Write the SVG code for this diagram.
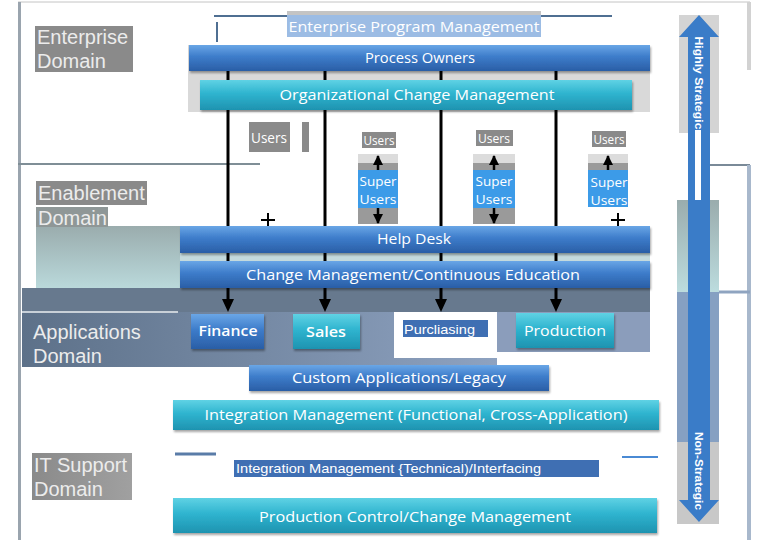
<svg xmlns="http://www.w3.org/2000/svg" width="768" height="544" viewBox="0 0 768 544">
<defs>
<linearGradient id="gBlue" x1="0" y1="0" x2="0" y2="1">
<stop offset="0" stop-color="#6aa6e6"/><stop offset="0.45" stop-color="#3d7cca"/><stop offset="1" stop-color="#2a5ea6"/>
</linearGradient>
<linearGradient id="gCyan" x1="0" y1="0" x2="0" y2="1">
<stop offset="0" stop-color="#5fd2e4"/><stop offset="0.45" stop-color="#2fb4cf"/><stop offset="1" stop-color="#1e93b0"/>
</linearGradient>
<linearGradient id="gTeal" x1="0" y1="0" x2="0" y2="1">
<stop offset="0" stop-color="#9aacad"/><stop offset="1" stop-color="#bcdcde"/>
</linearGradient>
<linearGradient id="gSlate" x1="0" y1="0" x2="1" y2="0">
<stop offset="0" stop-color="#5d7189"/><stop offset="1" stop-color="#8ea2c0"/>
</linearGradient>
<linearGradient id="gGray" x1="0" y1="0" x2="1" y2="0">
<stop offset="0" stop-color="#8a8a8a"/><stop offset="1" stop-color="#a0a0a0"/>
</linearGradient>
<marker id="ah" viewBox="0 0 10 10" refX="9" refY="5" markerWidth="4" markerHeight="4" orient="auto">
<path d="M0,0 L10,5 L0,10 z" fill="#000"/>
</marker>
<filter id="sh" x="-5%" y="-20%" width="110%" height="150%">
<feDropShadow dx="1" dy="2" stdDeviation="1" flood-color="#000" flood-opacity="0.35"/>
</filter>
</defs>
<style>
.bar{font-family:"Open Sans","Noto Sans",sans-serif;fill:#fff;text-anchor:middle}
.dom{font-family:"Liberation Sans",Arial,sans-serif;font-size:20px;fill:#ececec}
.ar{font-family:"Liberation Sans",Arial,sans-serif;fill:#fff}
.lbl{fill:#8a8a8a}
.vl{stroke:#000;stroke-width:3;fill:none}
.sb{fill:#3c9be8}
</style>
<rect width="768" height="544" fill="#fff"/>

<!-- frame -->
<g id="frame">
<line x1="18" y1="2" x2="750" y2="2" stroke="#c4c4c4" stroke-width="1"/>
<rect x="18" y="2" width="3" height="538" fill="#9aa4ae"/>
<rect x="747" y="2" width="4" height="68" fill="#d2d2d2"/>
<line x1="18" y1="164" x2="260" y2="164" stroke="#7f8e96" stroke-width="2"/>
<line x1="701" y1="165" x2="750" y2="165" stroke="#7a8a98" stroke-width="2"/>
<rect x="747" y="165" width="4" height="375" fill="#a8b8cc"/>
<line x1="719" y1="292" x2="750" y2="292" stroke="#8fa4c0" stroke-width="3"/>
</g>

<!-- domain backgrounds -->
<g id="backgrounds">
<rect x="188" y="45" width="462" height="67" fill="#d9d9d9"/>
<rect x="36" y="226" width="150" height="66" fill="url(#gTeal)"/>
<rect x="180" y="252" width="470" height="10" fill="#c4dadd"/>
<rect x="22" y="288" width="628" height="24" fill="#67798e"/>
<rect x="22" y="312" width="475" height="55" fill="url(#gSlate)"/>
<rect x="497" y="312" width="153" height="40" fill="#8b9dbb"/>
<rect x="394" y="312" width="103" height="46" fill="#fff"/>
<line x1="22" y1="312" x2="178" y2="312" stroke="#c8d0d8" stroke-width="2"/>
</g>

<!-- domain labels -->
<g id="enterprise-domain">
<rect x="35" y="26" width="98" height="46" class="lbl" fill="#9a9a9a"/>
<text x="37" y="44" class="dom">Enterprise</text>
<text x="37" y="68" class="dom">Domain</text>
</g>
<g id="enablement-domain">
<rect x="36" y="181" width="111" height="24" fill="#8a8a8a"/>
<rect x="36" y="207" width="72" height="20" fill="#8f9797"/>
<text x="38" y="200" class="dom">Enablement</text>
<text x="38" y="225" class="dom">Domain</text>
</g>
<g id="applications-domain">
<text x="33" y="339" class="dom">Applications</text>
<text x="33" y="363" class="dom">Domain</text>
</g>
<g id="it-support-domain">
<rect x="32" y="453" width="100" height="47" fill="url(#gGray)"/>
<text x="34" y="472" class="dom">IT Support</text>
<text x="34" y="496" class="dom">Domain</text>
</g>

<!-- connectors -->
<g id="connectors">
<line x1="214" y1="16" x2="612" y2="16" stroke="#4f6f92" stroke-width="2"/>
<line x1="217" y1="22" x2="217" y2="42" stroke="#4f6f92" stroke-width="2"/>
<line x1="175" y1="454" x2="216" y2="454" stroke="#5a7ca8" stroke-width="3"/>
<line x1="622" y1="457" x2="658" y2="457" stroke="#4a8ad4" stroke-width="2"/>
<line x1="228" y1="71" x2="228" y2="306" class="vl"/>
<line x1="325" y1="71" x2="325" y2="306" class="vl"/>
<line x1="441" y1="71" x2="441" y2="306" class="vl"/>
<line x1="556" y1="71" x2="556" y2="306" class="vl"/>
<path d="M222,299 L234,299 L228,312 z M319,299 L331,299 L325,312 z M435,299 L447,299 L441,312 z M550,299 L562,299 L556,312 z" fill="#000"/>
<path d="M261,220 H275 M268,213 V227 M611,220 H625 M618,213 V227" stroke="#000" stroke-width="2"/>
</g>

<g id="enterprise-program-management">
<rect x="287" y="11" width="254" height="5" fill="#c4c4c4"/>
<rect x="287" y="15" width="254" height="22" fill="#9cbce4"/>
<text x="414" y="32" class="bar" font-size="15" textLength="251" lengthAdjust="spacingAndGlyphs">Enterprise Program Management</text>
</g>
<g id="process-owners">
<rect x="189" y="45" width="461" height="26" fill="url(#gBlue)" filter="url(#sh)"/>
<text x="420" y="63" class="bar" font-size="14" textLength="110" lengthAdjust="spacingAndGlyphs">Process Owners</text>
</g>
<g id="organizational-change-management">
<rect x="200" y="80" width="432" height="30" fill="url(#gCyan)" filter="url(#sh)"/>
<text x="417" y="100" class="bar" font-size="15" textLength="275" lengthAdjust="spacingAndGlyphs">Organizational Change Management</text>
</g>

<g id="users-1">
<rect x="249" y="122" width="41" height="30" fill="#8a8a8a"/>
<rect x="302" y="122" width="7" height="30" fill="#8a8a8a"/>
<text x="269" y="143" class="bar" font-size="14" textLength="36" lengthAdjust="spacingAndGlyphs">Users</text>
</g>

<g id="super-users-1">
<rect x="362" y="132" width="34" height="16" fill="#8a8a8a"/>
<text x="379" y="145" class="bar" font-size="12" textLength="31" lengthAdjust="spacingAndGlyphs">Users</text>
<rect x="358" y="154" width="40" height="70" fill="#dcdcdc"/>
<rect x="358" y="163" width="40" height="61" fill="#9a9a9a"/>
<rect x="358" y="170" width="40" height="38" class="sb"/>
<text x="378" y="186" class="bar" font-size="13" textLength="37" lengthAdjust="spacingAndGlyphs">Super</text>
<text x="378" y="204" class="bar" font-size="13" textLength="37" lengthAdjust="spacingAndGlyphs">Users</text>
<line x1="378" y1="170" x2="378" y2="156" stroke="#000" stroke-width="2.5" marker-end="url(#ah)"/>
<line x1="378" y1="208" x2="378" y2="223" stroke="#000" stroke-width="2.5" marker-end="url(#ah)"/>
</g>
<g id="super-users-2">
<rect x="476" y="130" width="37" height="16" fill="#8a8a8a"/>
<text x="494" y="143" class="bar" font-size="12" textLength="32" lengthAdjust="spacingAndGlyphs">Users</text>
<rect x="473" y="154" width="42" height="70" fill="#dcdcdc"/>
<rect x="473" y="163" width="42" height="61" fill="#9a9a9a"/>
<rect x="473" y="170" width="42" height="38" class="sb"/>
<text x="494" y="186" class="bar" font-size="13" textLength="37" lengthAdjust="spacingAndGlyphs">Super</text>
<text x="494" y="204" class="bar" font-size="13" textLength="37" lengthAdjust="spacingAndGlyphs">Users</text>
<line x1="494" y1="170" x2="494" y2="156" stroke="#000" stroke-width="2.5" marker-end="url(#ah)"/>
<line x1="494" y1="208" x2="494" y2="223" stroke="#000" stroke-width="2.5" marker-end="url(#ah)"/>
</g>
<g id="super-users-3">
<rect x="592" y="131" width="34" height="16" fill="#8a8a8a"/>
<text x="609" y="144" class="bar" font-size="12" textLength="31" lengthAdjust="spacingAndGlyphs">Users</text>
<rect x="588" y="154" width="40" height="16" fill="#dcdcdc"/>
<rect x="588" y="163" width="40" height="7" fill="#9a9a9a"/>
<rect x="588" y="170" width="40" height="37" class="sb"/>
<text x="609" y="187" class="bar" font-size="13" textLength="37" lengthAdjust="spacingAndGlyphs">Super</text>
<text x="609" y="205" class="bar" font-size="13" textLength="37" lengthAdjust="spacingAndGlyphs">Users</text>
<line x1="608" y1="170" x2="608" y2="156" stroke="#000" stroke-width="2.5" marker-end="url(#ah)"/>
</g>

<g id="help-desk">
<rect x="180" y="226" width="470" height="27" fill="url(#gBlue)" filter="url(#sh)"/>
<text x="414" y="244" class="bar" font-size="14" textLength="74" lengthAdjust="spacingAndGlyphs">Help Desk</text>
</g>
<g id="change-management">
<rect x="180" y="261" width="470" height="27" fill="url(#gBlue)" filter="url(#sh)"/>
<text x="413" y="280" class="bar" font-size="14" textLength="334" lengthAdjust="spacingAndGlyphs">Change Management/Continuous Education</text>
</g>

<g id="finance">
<rect x="191" y="314" width="73" height="35" fill="url(#gBlue)" filter="url(#sh)"/>
<text x="228" y="336" class="bar" font-size="14" font-weight="600" textLength="59" lengthAdjust="spacingAndGlyphs">Finance</text>
</g>
<g id="sales">
<rect x="293" y="314" width="67" height="35" fill="url(#gCyan)" filter="url(#sh)"/>
<text x="326" y="337" class="bar" font-size="14" font-weight="600" textLength="40" lengthAdjust="spacingAndGlyphs">Sales</text>
</g>
<g id="purchasing">
<rect x="403" y="320" width="85" height="17" fill="#3f6fb3"/>
<text x="404" y="334" class="ar" font-size="13" textLength="71" lengthAdjust="spacingAndGlyphs">Purcliasing</text>
</g>
<g id="production">
<rect x="516" y="313" width="98" height="35" fill="url(#gCyan)" filter="url(#sh)"/>
<text x="565" y="336" class="bar" font-size="15" textLength="82" lengthAdjust="spacingAndGlyphs">Production</text>
</g>

<g id="custom-applications">
<rect x="249" y="365" width="300" height="26" fill="url(#gBlue)" filter="url(#sh)"/>
<text x="399" y="383" class="bar" font-size="14" textLength="214" lengthAdjust="spacingAndGlyphs">Custom Applications/Legacy</text>
</g>
<g id="integration-functional">
<rect x="173" y="400" width="486" height="30" fill="url(#gCyan)" filter="url(#sh)"/>
<text x="416" y="420" class="bar" font-size="15" textLength="423" lengthAdjust="spacingAndGlyphs">Integration Management (Functional, Cross-Application)</text>
</g>
<g id="integration-technical">
<rect x="234" y="460" width="365" height="17" fill="#3f6fb3"/>
<text x="236" y="473" class="ar" font-size="13" textLength="305" lengthAdjust="spacingAndGlyphs">Integration Management {Technical)/Interfacing</text>
</g>
<g id="production-control">
<rect x="173" y="498" width="484" height="35" fill="url(#gCyan)" filter="url(#sh)"/>
<text x="415" y="522" class="bar" font-size="15" textLength="312" lengthAdjust="spacingAndGlyphs">Production Control/Change Management</text>
</g>

<g id="strategy-arrow">
<rect x="679" y="15" width="40" height="118" fill="#d4d4d4"/>
<rect x="677" y="200" width="42" height="92" fill="url(#gTeal)"/>
<rect x="677" y="292" width="42" height="150" fill="#86a0c2"/>
<rect x="677" y="442" width="42" height="82" fill="#c8c8c8"/>
<path d="M699,15 L719,37 L710,37 L710,500 L719,500 L699,522 L679,500 L688,500 L688,37 L679,37 z" fill="#3a7cc8"/>
<rect x="695" y="130" width="6" height="70" fill="#fff"/>
<text transform="translate(695,83) rotate(90)" class="ar" font-size="11" font-weight="bold" text-anchor="middle" textLength="93" lengthAdjust="spacingAndGlyphs">Highly Strategic</text>
<text transform="translate(695,471) rotate(90)" class="ar" font-size="11" font-weight="bold" text-anchor="middle" textLength="78" lengthAdjust="spacingAndGlyphs">Non-Strategic</text>
</g>
</svg>
